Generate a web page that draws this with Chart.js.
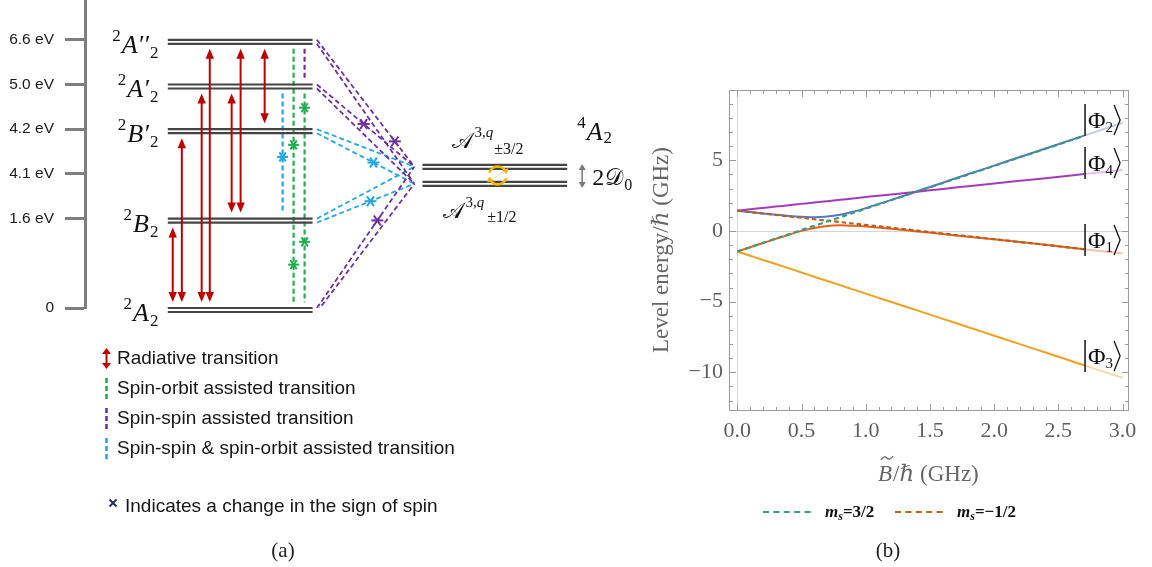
<!DOCTYPE html>
<html>
<head>
<meta charset="utf-8">
<script src="https://cdn.jsdelivr.net/npm/chart.js@4.4.1/dist/chart.umd.min.js"></script>
<style>
  html, body { margin: 0; padding: 0; background: #fff; }
  #wrap { position: relative; width: 1152px; height: 567px; overflow: hidden; }
  canvas { position: absolute; top: 0; }
  #levels { left: 0; }
  #zeeman { left: 640px; }
</style>
</head>
<body>
<div id="wrap">
  <canvas id="levels" width="640" height="567"></canvas>
  <canvas id="zeeman" width="512" height="567"></canvas>
</div>
<script>
// ---------- panel (a): level scheme ----------
const levelSymbols = ['A', 'B', 'B′', 'A′', 'A′′'];
const levelValues = [0, 2, 4, 5, 6];
const energyTickValues = [0, 2, 3, 4, 5, 6];
const energyTickLabels = ['0', '1.6 eV', '4.1 eV', '4.2 eV', '5.0 eV', '6.6 eV'];
const radiative = [[1, 0], [2, 0], [3, 0], [4, 0], [3, 1], [4, 1], [4, 2]]; // [upper, lower]
const spinOrbit = [[4, 0], [3, 0]];
const spinSpin = [[4, 3]];
const mixed = [[3, 1]];
const spinSpinToQuartet = [4, 3, 0];
const mixedToQuartet = [2, 1];
const quartetValues = [3.2, 2.82];

// ---------- panel (b): Zeeman levels ----------
const bField = [0, 0.1, 0.2, 0.3, 0.4, 0.5, 0.6, 0.7, 0.8, 0.9, 1.0, 1.1, 1.2, 1.4, 1.6, 1.8, 2.0, 2.2, 2.4, 2.7, 3.0];
const phi2 = [1.44, 1.34, 1.24, 1.15, 1.07, 1.01, 0.98, 1.02, 1.15, 1.36, 1.62, 1.91, 2.20, 2.81, 3.42, 4.03, 4.63, 5.24, 5.84, 6.75, 7.66];
const phi4 = [1.44, 1.54, 1.63, 1.73, 1.82, 1.92, 2.02, 2.11, 2.21, 2.30, 2.40, 2.50, 2.59, 2.78, 2.98, 3.17, 3.36, 3.55, 3.74, 4.03, 4.32];
const phi1 = [-1.45, -1.15, -0.85, -0.55, -0.26, 0.01, 0.22, 0.36, 0.40, 0.37, 0.32, 0.24, 0.16, -0.03, -0.22, -0.40, -0.59, -0.78, -0.98, -1.29, -1.60];
const phi3 = [-1.45, -1.75, -2.05, -2.34, -2.64, -2.94, -3.24, -3.54, -3.83, -4.13, -4.43, -4.73, -5.03, -5.62, -6.22, -6.81, -7.41, -8.01, -8.60, -9.50, -10.39];
const msThreeHalf = [-1.45, -1.15, -0.84, -0.54, -0.24, 0.07, 0.37, 0.67, 0.97, 1.28, 1.58, 1.88, 2.19, 2.79, 3.40, 4.00, 4.61, 5.22, 5.82, 6.73];
const msMinusHalf = [1.44, 1.34, 1.24, 1.14, 1.04, 0.94, 0.83, 0.73, 0.63, 0.53, 0.43, 0.33, 0.23, 0.03, -0.18, -0.38, -0.58, -0.78, -0.98, -1.29];
const bTickValues = [0, 0.5, 1.0, 1.5, 2.0, 2.5, 3.0];
const energyGHzTicks = [-10, -5, 0, 5];
const ketNames = ['2', '4', '1', '3'];
const ketLabelY = [7.86, 4.81, -0.64, -8.85];

// layout of the scheme (x in level-width units)
const A = {
  radCols: [0.034, 0.097, 0.234, 0.29, 0.441, 0.503, 0.669],
  soCols: [0.869, 0.945], soStars: [[3.65, 0.97], [4.48, 1.48]],
  ssCols: [0.945],
  mixCols: [0.793], mixStars: [[3.38]],
  diagStart: 1.03, diagEnd: 1.703,
  qFrom: 1.759, qTo: 2.759,
  ssStars: [[0.8, 0], [0.48, 0], [0.62, 0]],
  mixStarsDiag: [[0.58, 1], [0.55, 1]],
  insetTop: 0.2, insetBot: 0.13
};
const RED = '#c00000', GREEN = '#1fae4f', PURPLE = '#7030a0', BLUE = '#22a8e2';
const SERIF = "'Liberation Serif', 'DejaVu Serif', serif";
const SANS = "'Liberation Sans', Arial, sans-serif";

function rich(ctx, parts, x, y, align) {
  let w = 0;
  parts.forEach(p => { ctx.font = p[1]; w += ctx.measureText(p[0]).width + (p[3] || 0); });
  let cx = align === 'right' ? x - w : align === 'center' ? x - w / 2 : x;
  ctx.textAlign = 'left';
  ctx.textBaseline = 'alphabetic';
  parts.forEach(p => {
    ctx.font = p[1];
    ctx.fillText(p[0], cx, y + (p[2] || 0));
    cx += ctx.measureText(p[0]).width + (p[3] || 0);
  });
}
function head(ctx, x, y, dx, dy, len, hw) {
  ctx.beginPath();
  ctx.moveTo(x, y);
  ctx.lineTo(x - dx * len - dy * hw, y - dy * len + dx * hw);
  ctx.lineTo(x - dx * len + dy * hw, y - dy * len - dx * hw);
  ctx.closePath();
  ctx.fill();
}
function dblArrow(ctx, x, y1, y2, len, hw, w) {
  ctx.lineWidth = w;
  ctx.beginPath(); ctx.moveTo(x, y1 + len * 0.7); ctx.lineTo(x, y2 - len * 0.7); ctx.stroke();
  head(ctx, x, y1, 0, -1, len, hw);
  head(ctx, x, y2, 0, 1, len, hw);
}
function star(ctx, x, y, r, color) {
  ctx.save();
  ctx.strokeStyle = color; ctx.lineWidth = 2; ctx.setLineDash([]);
  [0, Math.PI / 3.3, -Math.PI / 3.3].forEach(a => {
    ctx.beginPath();
    ctx.moveTo(x - r * Math.cos(a), y - r * Math.sin(a));
    ctx.lineTo(x + r * Math.cos(a), y + r * Math.sin(a));
    ctx.stroke();
  });
  ctx.restore();
}

// dashed transitions of the scheme as datasets
function vline(col, up, low, color) {
  return {
    data: [{ x: col, y: levelValues[up] - A.insetTop }, { x: col, y: levelValues[low] + A.insetBot }],
    borderColor: color, borderWidth: 2.2, borderDash: [5, 3], pointRadius: 0, fill: false
  };
}
function diag(level, k, color) {
  const off = k === 0 ? 0 : -0.09;
  return {
    data: [{ x: A.diagStart, y: levelValues[level] + off }, { x: A.diagEnd, y: quartetValues[k] - 0.04 }],
    borderColor: color, borderWidth: 1.8, borderDash: [5, 3], pointRadius: 0, fill: false
  };
}
const schemeSets = [];
spinOrbit.forEach((t, i) => schemeSets.push(vline(A.soCols[i], t[0], t[1], GREEN)));
spinSpin.forEach((t, i) => schemeSets.push(vline(A.ssCols[i], t[0], t[1], PURPLE)));
mixed.forEach((t, i) => schemeSets.push(vline(A.mixCols[i], t[0], t[1], BLUE)));
spinSpinToQuartet.forEach(l => { schemeSets.push(diag(l, 0, PURPLE)); schemeSets.push(diag(l, 1, PURPLE)); });
mixedToQuartet.forEach(l => { schemeSets.push(diag(l, 0, BLUE)); schemeSets.push(diag(l, 1, BLUE)); });

const scheme = {
  id: 'scheme',
  afterDatasetsDraw(chart) {
    const { ctx, scales: { x, y } } = chart;
    const px = v => x.getPixelForValue(v), py = v => y.getPixelForValue(v);
    ctx.save();
    // doublet levels
    ctx.strokeStyle = '#444'; ctx.lineWidth = 2.2;
    levelValues.forEach(v => {
      [0, 4].forEach(o => {
        ctx.beginPath(); ctx.moveTo(px(0), py(v) + o); ctx.lineTo(px(1), py(v) + o); ctx.stroke();
      });
    });
    // quartet sublevels
    quartetValues.forEach(v => {
      [0, 4].forEach(o => {
        ctx.beginPath(); ctx.moveTo(px(A.qFrom), py(v) + o); ctx.lineTo(px(A.qTo), py(v) + o); ctx.stroke();
      });
    });
    // radiative arrows
    ctx.strokeStyle = RED; ctx.fillStyle = RED;
    radiative.forEach((t, i) => {
      dblArrow(ctx, px(A.radCols[i]), py(levelValues[t[0]]) + 9, py(levelValues[t[1]]) - 6, 10, 4.2, 2);
    });
    // stars on vertical lines
    A.soStars.forEach((s, i) => s.forEach(v => star(ctx, px(A.soCols[i]), py(v), 5.5, GREEN)));
    A.mixStars.forEach((s, i) => s.forEach(v => star(ctx, px(A.mixCols[i]), py(v), 5.5, BLUE)));
    // stars on diagonal lines
    const diagStar = (level, t, k, color) => {
      const off = k === 0 ? 0 : -0.09;
      const x0 = px(A.diagStart), y0 = py(levelValues[level] + off);
      const x1 = px(A.diagEnd), y1 = py(quartetValues[k] - 0.04);
      star(ctx, x0 + (x1 - x0) * t, y0 + (y1 - y0) * t, 6, color);
    };
    spinSpinToQuartet.forEach((l, i) => diagStar(l, A.ssStars[i][0], A.ssStars[i][1], PURPLE));
    mixedToQuartet.forEach((l, i) => diagStar(l, A.mixStarsDiag[i][0], A.mixStarsDiag[i][1], BLUE));

    // level labels
    ctx.fillStyle = '#111';
    levelSymbols.forEach((s, i) => {
      const b = py(levelValues[i]) + 13;
      rich(ctx, [['2', '17px ' + SERIF, -12, 1], [s, 'italic 26px ' + SERIF, 0, 1], ['2', '17px ' + SERIF, 5]], px(-0.065), b, 'right');
    });
    // quartet labels
    const qU = py(quartetValues[0]), qL = py(quartetValues[1]);
    const qx0 = px(A.qFrom), qx1 = px(A.qTo);
    rich(ctx, [['4', '17px ' + SERIF, -12, 1], ['A', 'italic 26px ' + SERIF, 0, 1], ['2', '17px ' + SERIF, 3]], qx1 + 10, qU - 25, 'left');
    rich(ctx, [['𝒜', '22px ' + SERIF, 0, 1], ['3,', '15px ' + SERIF, -11, 0], ['q', 'italic 15px ' + SERIF, -11, 1], ['±3/2', '16px ' + SERIF, 6]], qx0 + 30, qU - 17, 'left');
    rich(ctx, [['𝒜', '22px ' + SERIF, 0, 1], ['3,', '15px ' + SERIF, -11, 0], ['q', 'italic 15px ' + SERIF, -11, 3], ['±1/2', '16px ' + SERIF, 4]], qx0 + 21, qL + 36, 'left');
    rich(ctx, [['2', '24px ' + SERIF, 0, 1], ['𝒟', '23px ' + SERIF, 0, 1], ['0', '16px ' + SERIF, 5]], qx1 + 25, (qU + qL) / 2 + 12, 'left');
    // 2D0 splitting arrow
    ctx.strokeStyle = '#777'; ctx.fillStyle = '#777';
    dblArrow(ctx, qx1 + 15, qU - 1, qL + 6, 6, 3.5, 1.5);
    // exchange loop symbol
    const cx = (qx0 + qx1) / 2 + 3, cy = (qU + qL + 4) / 2;
    ctx.strokeStyle = '#f4b400'; ctx.fillStyle = '#f4b400'; ctx.lineWidth = 2.5;
    ctx.beginPath(); ctx.arc(cx, cy, 9, Math.PI * 1.1, Math.PI * 1.85); ctx.stroke();
    head(ctx, cx + 9 * Math.cos(Math.PI * 1.95), cy + 9 * Math.sin(Math.PI * 1.95), 0.3, 0.95, 5, 3.5);
    ctx.beginPath(); ctx.arc(cx, cy, 9, Math.PI * 0.1, Math.PI * 0.85); ctx.stroke();
    head(ctx, cx + 9 * Math.cos(Math.PI * 0.95), cy + 9 * Math.sin(Math.PI * 0.95), -0.3, -0.95, 5, 3.5);
    ctx.strokeStyle = '#d8d8d8'; ctx.lineWidth = 1;
    ctx.beginPath(); ctx.moveTo(cx - 5, cy + 4); ctx.lineTo(cx + 5, cy - 4); ctx.stroke();
    ctx.restore();
  },
  afterDraw(chart) {
    const { ctx } = chart;
    ctx.save();
    // legend
    ctx.fillStyle = RED; ctx.strokeStyle = RED;
    dblArrow(ctx, 106.5, 348, 369, 6, 4.5, 2);
    const dash = (y, color) => {
      ctx.strokeStyle = color; ctx.lineWidth = 2.6; ctx.setLineDash([5, 3]);
      ctx.beginPath(); ctx.moveTo(106.5, y - 11); ctx.lineTo(106.5, y + 12); ctx.stroke();
      ctx.setLineDash([]);
    };
    dash(389, GREEN); dash(419, PURPLE); dash(449, BLUE);
    ctx.fillStyle = '#151515'; ctx.font = '19px ' + SANS; ctx.textBaseline = 'middle'; ctx.textAlign = 'left';
    ctx.fillText('Radiative transition', 117, 359);
    ctx.fillText('Spin-orbit assisted transition', 117, 389);
    ctx.fillText('Spin-spin assisted transition', 117, 419);
    ctx.fillText('Spin-spin & spin-orbit assisted transition', 117, 449);
    ctx.fillText('Indicates a change in the sign of spin', 125, 507);
    ctx.strokeStyle = '#1f2a6b'; ctx.lineWidth = 1.8;
    ctx.beginPath(); ctx.moveTo(109.5, 499.5); ctx.lineTo(116.5, 506.5); ctx.moveTo(116.5, 499.5); ctx.lineTo(109.5, 506.5); ctx.stroke();
    // panel tag
    ctx.font = '21px ' + SERIF; ctx.textAlign = 'center'; ctx.textBaseline = 'alphabetic'; ctx.fillStyle = '#222';
    ctx.fillText('(a)', 283, 557);
    ctx.restore();
  }
};

new Chart(document.getElementById('levels'), {
  type: 'line',
  data: { datasets: schemeSets },
  options: {
    responsive: false, animation: false,
    layout: { padding: { top: 0, bottom: 259, left: 0, right: 0 } },
    plugins: { legend: { display: false }, tooltip: { enabled: false } },
    scales: {
      x: { type: 'linear', display: false, min: -0.572, max: 3.262 },
      y: {
        type: 'linear', min: 0, max: 6.89,
        afterBuildTicks: s => { s.ticks = energyTickValues.map(v => ({ value: v })); },
        afterFit: s => { s.width = 85; s.paddingTop = 0; s.paddingBottom = 0; },
        ticks: {
          autoSkip: false, padding: 11, color: '#1a1a1a',
          font: { family: 'Liberation Sans', size: 15.5 },
          callback: (v, i) => energyTickLabels[i]
        },
        grid: { drawOnChartArea: false, tickLength: 20, tickWidth: 3, color: '#7f7f7f' },
        border: { color: '#7f7f7f', width: 3 }
      }
    }
  },
  plugins: [scheme]
});

// ---------- panel (b) chart ----------
function solid(label, ys, color, faded) {
  return {
    label, data: ys.map((v, i) => ({ x: bField[i], y: v })),
    borderColor: color, borderWidth: 2, pointRadius: 0, cubicInterpolationMode: 'monotone',
    segment: { borderColor: c => (c.p0.parsed.x >= 2.69 ? faded : undefined) }
  };
}
function dashed(label, ys, color, dash) {
  return {
    label, data: ys.map((v, i) => ({ x: bField[i], y: v })),
    borderColor: color, borderWidth: 2.2, borderDash: dash, pointRadius: 0, cubicInterpolationMode: 'monotone'
  };
}

const frame = {
  id: 'frame',
  beforeDatasetsDraw(chart) {
    const { ctx, chartArea: a, scales: { x, y } } = chart;
    ctx.save();
    ctx.lineWidth = 1;
    ctx.strokeStyle = '#d4d4d4';
    const x0 = Math.round(x.getPixelForValue(0)) + 0.5, y0 = Math.round(y.getPixelForValue(0)) + 0.5;
    ctx.beginPath(); ctx.moveTo(a.left, y0); ctx.lineTo(a.right, y0); ctx.moveTo(x0, a.top); ctx.lineTo(x0, a.bottom); ctx.stroke();
    ctx.strokeStyle = '#9a9a9a';
    ctx.strokeRect(a.left + 0.5, a.top + 0.5, a.right - a.left - 1, a.bottom - a.top - 1);
    ctx.beginPath();
    for (let i = 0; i <= 30; i++) {
      const p = Math.round(x.getPixelForValue(i / 10)) + 0.5, len = i % 5 === 0 ? 7 : 4;
      ctx.moveTo(p, a.bottom); ctx.lineTo(p, a.bottom - len);
      ctx.moveTo(p, a.top); ctx.lineTo(p, a.top + len);
    }
    for (let v = -12; v <= 9; v++) {
      const p = Math.round(y.getPixelForValue(v)) + 0.5, len = v % 5 === 0 ? 7 : 4;
      ctx.moveTo(a.left, p); ctx.lineTo(a.left + len, p);
      ctx.moveTo(a.right, p); ctx.lineTo(a.right - len, p);
    }
    ctx.stroke();
    ctx.restore();
  },
  afterDatasetsDraw(chart) {
    const { ctx, scales: { x, y } } = chart;
    ctx.save();
    ctx.fillStyle = '#111'; ctx.strokeStyle = '#111';
    ketNames.forEach((n, i) => {
      const bx = x.getPixelForValue(2.7) + 1, yc = y.getPixelForValue(ketLabelY[i]);
      ctx.lineWidth = 1.5;
      ctx.beginPath(); ctx.moveTo(bx, yc - 16); ctx.lineTo(bx, yc + 16); ctx.stroke();
      ctx.font = '24px ' + SERIF; ctx.textAlign = 'left'; ctx.textBaseline = 'alphabetic';
      ctx.fillText('Φ', bx + 3, yc + 8);
      const w = ctx.measureText('Φ').width;
      ctx.font = '15px ' + SERIF;
      ctx.fillText(n, bx + 3 + w, yc + 12);
      const xr = bx + 4 + w + ctx.measureText(n).width;
      ctx.lineWidth = 1.3;
      ctx.beginPath(); ctx.moveTo(xr, yc - 15); ctx.lineTo(xr + 6, yc); ctx.lineTo(xr, yc + 15); ctx.stroke();
    });
    ctx.restore();
  },
  afterDraw(chart) {
    const { ctx } = chart;
    ctx.save();
    ctx.fillStyle = '#666';
    // y title
    ctx.save();
    ctx.translate(22, 250); ctx.rotate(-Math.PI / 2);
    ctx.font = '23px ' + SERIF; ctx.textAlign = 'center'; ctx.textBaseline = 'middle';
    ctx.fillText('Level energy/ℏ (GHz)', 0, 0);
    ctx.restore();
    // x title
    ctx.font = 'italic 23px ' + SERIF; ctx.textAlign = 'left'; ctx.textBaseline = 'alphabetic';
    const xs = 238;
    ctx.fillText('B', xs, 481);
    const bw = ctx.measureText('B').width;
    ctx.strokeStyle = '#666'; ctx.lineWidth = 1.3;
    ctx.beginPath(); ctx.moveTo(xs + 3, 460); ctx.quadraticCurveTo(xs + 6, 455, xs + 9, 458); ctx.quadraticCurveTo(xs + 12, 461, xs + 15, 456); ctx.stroke();
    ctx.font = '23px ' + SERIF;
    ctx.fillText('/ℏ (GHz)', xs + bw + 1, 481);
    // legend
    ctx.lineWidth = 2.2;
    const lg = (x0, color, tail) => {
      ctx.strokeStyle = color; ctx.setLineDash([6, 4.4]);
      ctx.beginPath(); ctx.moveTo(x0, 512); ctx.lineTo(x0 + 50, 512); ctx.stroke();
      ctx.setLineDash([]);
      ctx.fillStyle = '#111';
      rich(ctx, [['m', 'bold italic 17px ' + SERIF, 0], ['s', 'bold italic 12px ' + SERIF, 3], [tail, 'bold 17px ' + SERIF, 0]], x0 + 62, 517, 'left');
    };
    lg(123, '#3a9c7c', '=3/2');
    lg(255, '#c0621f', '=−1/2');
    ctx.fillStyle = '#222'; ctx.font = '21px ' + SERIF; ctx.textAlign = 'center';
    ctx.fillText('(b)', 248, 557);
    ctx.restore();
  }
};

new Chart(document.getElementById('zeeman'), {
  type: 'line',
  data: {
    datasets: [
      dashed('m_s=3/2', msThreeHalf, '#3a9c7c', [5, 3.5]),
      dashed('m_s=-1/2', msMinusHalf, '#b85f1c', [4.5, 3]),
      solid('Φ4', phi4, '#a23cb8', '#e6bcee'),
      solid('Φ2', phi2, '#5877c8', '#c4cde0'),
      solid('Φ1', phi1, '#e8611c', '#f6c3a4'),
      solid('Φ3', phi3, '#f2a11f', '#f8d9a9')
    ]
  },
  options: {
    responsive: false, animation: false,
    layout: { padding: { top: 90, right: 23, left: 0, bottom: 0 } },
    plugins: { legend: { display: false }, tooltip: { enabled: false } },
    scales: {
      x: {
        type: 'linear', min: -0.065, max: 3.05,
        afterBuildTicks: s => { s.ticks = bTickValues.map(v => ({ value: v })); },
        afterFit: s => { s.height = 156; },
        ticks: { autoSkip: false, maxRotation: 0, padding: 7, color: '#5f5f5f', font: { family: 'Liberation Serif', size: 22 }, callback: v => v.toFixed(1) },
        grid: { drawOnChartArea: false, drawTicks: false },
        border: { display: false }
      },
      y: {
        type: 'linear', min: -12.74, max: 9.98,
        afterBuildTicks: s => { s.ticks = energyGHzTicks.map(v => ({ value: v })); },
        afterFit: s => { s.width = 89; },
        ticks: { autoSkip: false, padding: 6, color: '#5f5f5f', font: { family: 'Liberation Serif', size: 22 }, callback: v => (v < 0 ? '−' + Math.abs(v) : String(v)) },
        grid: { drawOnChartArea: false, drawTicks: false },
        border: { display: false }
      }
    }
  },
  plugins: [frame]
});
</script>
</body>
</html>
